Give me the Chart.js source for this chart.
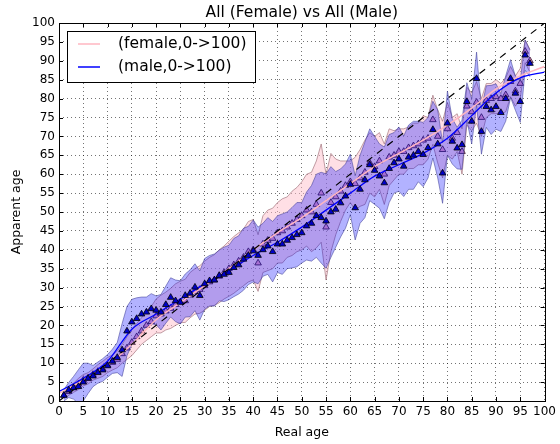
<!DOCTYPE html>
<html>
<head>
<meta charset="utf-8">
<script src="https://cdn.jsdelivr.net/npm/chart.js@4.4.0/dist/chart.umd.min.js"></script>
<style>
  html, body { margin: 0; padding: 0; background: #fff; }
  #wrap { width: 560px; height: 444px; }
</style>
</head>
<body>
<div id="wrap"><canvas id="ageChart"></canvas></div>
<script>
// real ages (x) for the per-age means
var ages = [1,2,3,4,5,6,7,8,9,10,11,12,13,14,15,16,17,18,19,20,
            21,22,23,24,25,26,27,28,29,30,31,32,33,34,35,36,37,38,39,40,
            41,42,43,44,45,46,47,48,49,50,51,52,53,54,55,56,57,58,59,60,
            61,62,63,64,65,66,67,68,69,70,71,72,73,74,75,76,77,78,79,80,
            81,82,83,84,85,86,87,88,89,90,91,92,93,94,95,96,97];

var femaleMean = [1.5,2.5,3.5,4.5,5.5,6.0,7.0,7.8,8.5,9.5,
                  10.2,11.0,12.5,14.0,15.5,17.0,18.5,20.0,21.0,22.5,
                  23.0,23.8,24.5,25.5,26.2,26.5,28.0,29.0,29.5,30.5,
                  31.5,32.0,33.0,34.0,35.0,36.0,37.0,38.0,39.5,40.0,
                  36.5,41.5,42.5,43.0,44.5,45.0,46.0,47.0,48.0,49.0,
                  50.5,50.0,52.0,55.0,46.0,52.5,54.0,55.5,57.0,58.0,
                  57.5,59.0,60.5,63.0,62.0,63.5,60.0,64.5,65.0,66.0,
                  66.0,67.0,67.5,68.0,69.0,69.5,74.4,70.0,66.5,72.0,
                  69.5,71.0,66.0,78.0,76.5,79.0,75.0,79.5,80.0,80.5,
                  80.0,81.0,84.5,82.0,84.0,92.5,90.0];

var femaleStd = [1.0,1.0,1.2,1.5,1.5,1.5,1.5,1.8,2.0,2.0,
                 2.0,2.2,2.5,3.0,3.5,3.5,3.5,4.0,4.0,4.5,
                 5.0,5.0,5.3,5.5,5.5,5.7,6.0,6.0,6.3,6.5,
                 6.5,6.7,7.0,7.0,7.3,7.5,7.5,7.5,8.0,8.0,
                 7.5,7.5,8.0,8.0,8.0,8.5,8.0,8.5,8.5,9.0,
                 9.5,10.5,11.5,13.0,14.0,13.0,10.0,8.0,6.5,5.5,
                 7.0,7.5,8.5,8.0,8.0,7.5,8.0,7.5,6.5,6.0,
                 6.0,5.5,6.0,5.5,6.5,5.5,6.5,7.0,7.5,7.0,
                 5.5,5.0,6.0,5.0,5.0,5.5,5.0,4.5,4.0,4.5,
                 4.0,4.5,4.0,4.0,4.0,3.0,3.0];

var maleMean = [1.5,2.9,3.5,3.8,5.0,6.0,6.6,7.5,8.2,9.3,
                10.5,11.5,13.5,18.5,20.9,21.8,23.0,23.5,24.4,24.0,
                23.5,25.5,27.4,26.5,26.1,27.9,28.5,30.1,27.9,31.0,
                31.8,32.0,33.2,33.5,34.0,35.3,36.0,37.5,38.5,39.7,
                38.5,40.0,41.0,39.5,41.5,41.5,42.5,43.2,44.0,44.5,
                46.3,47.0,49.0,48.5,47.6,50.0,50.7,52.4,54.2,57.3,
                51.1,56.0,58.5,62.5,61.0,59.5,57.7,61.5,63.0,64.0,
                62.1,64.5,65.0,66.0,65.2,67.0,71.8,68.0,60.3,73.5,
                68.7,66.9,67.8,79.2,74.0,85.3,71.3,77.9,77.0,77.9,
                76.3,80.0,85.3,81.4,79.2,91.5,89.3];

var maleStd = [1.5,2.0,3.0,4.5,5.0,4.0,2.8,2.8,3.0,3.0,
               3.2,4.0,7.0,6.5,6.0,5.5,4.5,4.0,4.0,3.8,
               4.7,4.9,5.2,5.5,5.7,5.7,6.2,6.2,6.5,6.7,
               6.7,6.9,6.7,7.2,7.2,7.7,7.7,8.2,7.7,8.2,
               7.5,7.0,7.5,8.0,7.5,8.0,7.5,8.0,8.5,8.0,
               9.0,10.0,11.0,12.0,12.5,12.0,10.0,9.0,8.5,8.0,
               8.5,9.0,10.0,9.5,9.0,8.5,9.5,9.0,8.0,8.5,
               8.0,8.5,9.0,8.0,8.5,8.0,7.5,9.0,8.0,8.5,
               6.0,5.5,6.5,5.0,6.0,7.0,6.0,5.5,6.5,6.0,
               5.0,6.0,5.0,4.5,5.5,4.0,3.5];

// smoothed fits
var fitAges   = [0,5,10,15,20,25,30,35,40,45,50,55,60,65,70,75,80,85,90,95,100];
var femaleFit = [2,5.5,9.5,15,21.5,26,30.5,35,40,44.5,48.5,53,57.5,62,65.5,69,73,77.5,82.5,86,88.5];
var maleFit   = [2.5,6,10.5,19,23,27,31,34.5,38.5,42,46,50.5,55,59.5,62.5,65.5,69.5,75.5,81.5,85.5,87];

var diagonal = [0, 100];
var tickValues = [0,5,10,15,20,25,30,35,40,45,50,55,60,65,70,75,80,85,90,95,100];

var FONT = 'DejaVu Sans';

function pts(xs, ys) {
    return xs.map(function (x, i) { return { x: x, y: ys[i] }; });
}
function shifted(mean, std, sign) {
    return ages.map(function (a, i) { return { x: a, y: mean[i] + sign * std[i] }; });
}

var framePlugin = {
    id: 'frame',
    afterDraw: function (chart) {
        var ctx = chart.ctx, a = chart.chartArea;
        var xs = chart.scales.x, ys = chart.scales.y;
        ctx.save();
        ctx.strokeStyle = '#000';
        ctx.lineWidth = 1;
        ctx.beginPath();
        tickValues.forEach(function (v) {
            var px = Math.round(xs.getPixelForValue(v)) + 0.5;
            ctx.moveTo(px, a.bottom); ctx.lineTo(px, a.bottom - 4);
            ctx.moveTo(px, a.top); ctx.lineTo(px, a.top + 4);
            var py = Math.round(ys.getPixelForValue(v)) + 0.5;
            ctx.moveTo(a.left, py); ctx.lineTo(a.left + 4, py);
            ctx.moveTo(a.right, py); ctx.lineTo(a.right - 4, py);
        });
        ctx.stroke();
        ctx.strokeRect(Math.round(a.left) + 0.5, Math.round(a.top) + 0.5,
                       Math.round(a.right - a.left), Math.round(a.bottom - a.top));

        // title, centred on the plot area
        ctx.fillStyle = '#000';
        ctx.font = '15.5px "' + FONT + '"';
        ctx.textAlign = 'center';
        ctx.textBaseline = 'middle';
        ctx.fillText('All (Female) vs All (Male)', (a.left + a.right) / 2, 12.5);

        // legend box
        var lx = a.left + 8, ly = a.top + 8;
        ctx.fillStyle = '#fff';
        ctx.fillRect(lx, ly, 188, 51);
        ctx.strokeStyle = '#000';
        ctx.strokeRect(lx + 0.5, ly + 0.5, 188, 51);
        var items = [['(female,0->100)', '#ffb6c1'], ['(male,0->100)', '#0000ff']];
        ctx.textAlign = 'left';
        items.forEach(function (it, i) {
            var y = ly + 13 + i * 23;
            ctx.strokeStyle = it[1];
            ctx.lineWidth = 1.5;
            ctx.beginPath();
            ctx.moveTo(lx + 11, y); ctx.lineTo(lx + 33, y);
            ctx.stroke();
            ctx.fillStyle = '#000';
            ctx.fillText(it[0], lx + 51, y);
        });
        ctx.restore();
    }
};

var ctxA = document.getElementById('ageChart').getContext('2d');
var ageChart = new Chart(ctxA, {
    type: 'scatter',
    data: {
        datasets: [
            {   // male means
                label: 'male points',
                data: pts(ages, maleMean),
                showLine: false,
                pointStyle: 'triangle',
                pointRadius: 3.8,
                backgroundColor: '#0000c8',
                borderColor: '#000',
                borderWidth: 0.8,
                order: 0
            },
            {   // y = x
                label: 'diag',
                data: pts(diagonal, diagonal),
                showLine: true,
                pointRadius: 0,
                borderColor: '#000',
                borderWidth: 1.2,
                borderDash: [7, 6],
                order: 2
            },
            {
                label: '(male,0->100)',
                data: pts(fitAges, maleFit),
                showLine: true,
                pointRadius: 0,
                borderColor: '#0000ff',
                borderWidth: 1.3,
                cubicInterpolationMode: 'monotone',
                order: 3
            },
            {
                label: '(female,0->100)',
                data: pts(fitAges, femaleFit),
                showLine: true,
                pointRadius: 0,
                borderColor: '#ffb6c1',
                borderWidth: 1.5,
                cubicInterpolationMode: 'monotone',
                order: 4
            },
            {   // male band low edge
                label: 'male low',
                data: shifted(maleMean, maleStd, -1),
                showLine: true,
                pointRadius: 0,
                borderColor: 'rgba(60,60,150,0.55)',
                borderWidth: 1,
                fill: false,
                order: 5
            },
            {   // male band high edge, filled down to low edge
                label: 'male high',
                data: shifted(maleMean, maleStd, 1),
                showLine: true,
                pointRadius: 0,
                borderColor: 'rgba(60,60,150,0.55)',
                borderWidth: 1,
                backgroundColor: 'rgba(0,0,255,0.3)',
                fill: '-1',
                order: 5
            },
            {   // female means
                label: 'female points',
                data: pts(ages, femaleMean),
                showLine: false,
                pointStyle: 'triangle',
                pointRadius: 3.8,
                backgroundColor: '#f0a0c0',
                borderColor: '#301030',
                borderWidth: 0.8,
                order: 6
            },
            {
                label: 'female low',
                data: shifted(femaleMean, femaleStd, -1),
                showLine: true,
                pointRadius: 0,
                borderColor: 'rgba(150,100,110,0.6)',
                borderWidth: 1,
                fill: false,
                order: 7
            },
            {
                label: 'female high',
                data: shifted(femaleMean, femaleStd, 1),
                showLine: true,
                pointRadius: 0,
                borderColor: 'rgba(150,100,110,0.6)',
                borderWidth: 1,
                backgroundColor: 'rgba(255,192,203,0.5)',
                fill: '-1',
                order: 7
            }
        ]
    },
    options: {
        responsive: true,
        maintainAspectRatio: false,
        animation: false,
        layout: { padding: { left: 0, right: 13, top: 23, bottom: 0 } },
        plugins: {
            legend: { display: false },
            tooltip: { enabled: false },
            title: { display: false }
        },
        scales: {
            x: {
                type: 'linear',
                min: 0, max: 100,
                afterFit: function (s) { s.height = 43; },
                afterBuildTicks: function (s) { s.ticks = tickValues.map(function (v) { return { value: v }; }); },
                ticks: { color: '#000', font: { family: FONT, size: 12 }, padding: 4, maxRotation: 0, autoSkip: false },
                grid: { color: 'rgba(0,0,0,0.55)', lineWidth: 1, drawTicks: false },
                border: { display: false, dash: [1, 3] },
                title: { display: true, text: 'Real age', color: '#000', font: { family: FONT, size: 12.5 }, padding: { top: 0, bottom: 4 } }
            },
            y: {
                type: 'linear',
                min: 0, max: 100,
                afterFit: function (s) { s.width = 59; },
                afterBuildTicks: function (s) { s.ticks = tickValues.map(function (v) { return { value: v }; }); },
                ticks: { color: '#000', font: { family: FONT, size: 12 }, padding: 4, autoSkip: false },
                grid: { color: 'rgba(0,0,0,0.55)', lineWidth: 1, drawTicks: false },
                border: { display: false, dash: [1, 3] },
                title: { display: true, text: 'Apparent age', color: '#000', font: { family: FONT, size: 12.5 }, padding: { top: 9, bottom: 0 } }
            }
        }
    },
    plugins: [framePlugin]
});
</script>
</body>
</html>
